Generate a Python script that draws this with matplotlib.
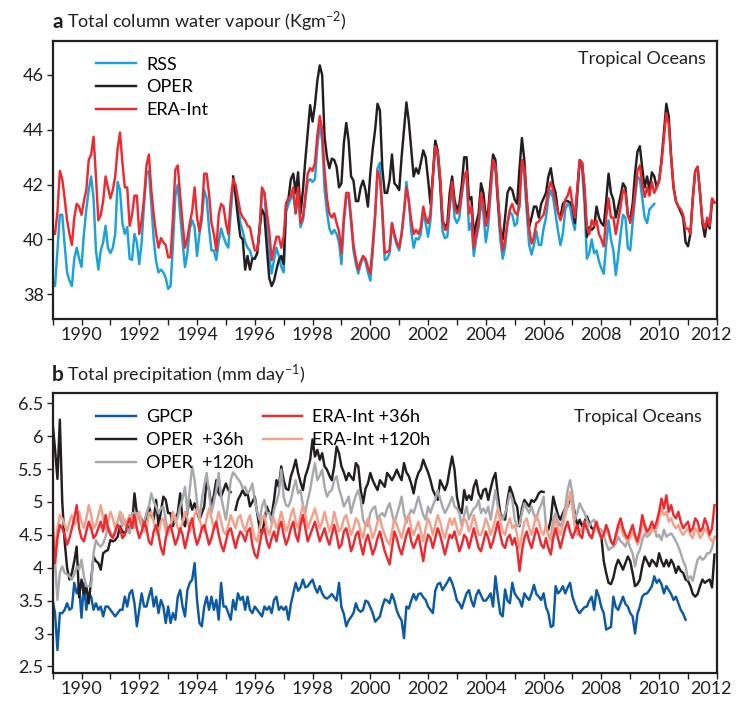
import numpy as np
import matplotlib
matplotlib.use("Agg")
import matplotlib.pyplot as plt
from matplotlib.transforms import ScaledTranslation

plt.rcParams["font.family"] = ["Lato", "DejaVu Sans"]
plt.rcParams["mathtext.fontset"] = "custom"
plt.rcParams["mathtext.rm"] = "Lato"
plt.rcParams["mathtext.it"] = "Lato:italic"
plt.rcParams["mathtext.bf"] = "Lato:bold"

nan = np.nan
START_YEAR = 1989

# ---------------- Panel a: total column water vapour (kg m-2), monthly ----------------
tcwv_rss = [
    38.5, 38.3, 39.6, 40.9, 40.9, 39.8, 38.8, 38.5, 38.3, 39.3, 39.7, 39.3,
    39.0, 40.2, 41.1, 41.8, 42.3, 41.5, 39.6, 38.9, 39.6, 39.9, 40.5, 39.7,
    39.5, 39.7, 40.2, 42.1, 41.8, 40.6, 40.2, 40.45, 39.3, 39.25, 40.2, 39.9,
    39.1, 39.9, 41.3, 42.4, 42.5, 41.3, 40.0, 39.2, 38.8, 38.9, 38.8, 38.6,
    38.2, 38.3, 39.8, 41.6, 42.0, 40.9, 39.9, 39.0, 39.5, 40.4, 40.7, 40.45,
    39.4, 40.2, 40.7, 41.8, 41.5, 40.4, 39.6, 39.6, 39.25, 39.9, 40.4, 40.1,
    39.85, 39.7, 41.0, 42.0, 41.9, 41.2, 40.6, 40.3, 39.9, 39.7, 39.6, 39.3,
    39.3, 39.5, 40.4, 41.8, 41.7, 40.4, 39.4, 38.76, 39.25, 39.7, 39.4, 39.0,
    38.8, 41.0, 41.3, 41.5, 41.6, 40.95, 41.7, 40.45, 40.7, 41.4, 42.1, 42.2,
    42.1, 42.2, 43.4, 44.2, 43.6, 41.8, 41.0, 40.4, 40.2, 40.35, 40.2, 39.9,
    39.1, 40.6, 41.5, 41.6, 40.6, 39.6, 39.1, 38.76, 39.1, 39.35, 39.2, 38.8,
    38.5, 39.5, 40.8, 42.6, 42.8, 40.8, 39.25, 39.3, 39.5, 40.6, 40.1, 39.8,
    39.6, 40.2, 41.0, 42.1, 41.4, 40.3, 39.7, 40.05, 40.0, 40.2, 41.0, 40.6,
    40.1, 40.7, 42.3, 43.6, 43.0, 42.0, 40.3, 40.05, 40.1, 41.2, 41.9, 40.8,
    40.6, 40.8, 41.6, 42.3, 42.3, 40.35, 40.6, 39.4, 40.0, 40.45, 41.4, 40.95,
    39.9, 40.5, 41.7, 42.8, 42.5, 41.3, 40.0, 39.3, 39.7, 40.6, 41.0, 40.9,
    40.5, 40.6, 41.8, 42.9, 42.3, 41.0, 39.8, 39.45, 39.8, 40.3, 39.8, 39.8,
    40.4, 40.8, 41.5, 41.8, 41.5, 40.9, 40.3, 39.8, 40.2, 41.1, 41.3, 41.2,
    40.7, 40.35, 41.6, 42.8, 42.6, 41.3, 39.3, 39.5, 40.0, 39.5, 39.6, 39.2,
    38.95, 38.75, 39.8, 40.7, 40.0, 39.6, 38.7, 39.4, 40.2, 40.9, 40.8, 39.7,
    39.6, 40.6, 41.5, 42.3, 42.2, 41.5, 40.8, 40.6, 41.1, 41.2, 41.3,
]

tcwv_oper = [nan] * 75 + [
    42.3, 41.6, 40.8, 40.1, 40.0, 38.9, 39.4, 38.9, 39.3,
    39.3, 39.5, 40.4, 41.1, 40.9, 39.7, 38.6, 38.3, 38.5, 38.9, 39.25, 39.4,
    39.1, 41.3, 41.5, 42.2, 42.4, 41.7, 42.45, 40.95, 41.8, 42.9, 43.9, 44.9,
    44.3, 44.9, 45.8, 46.35, 46.0, 43.75, 43.0, 42.6, 42.95, 42.9, 42.65, 41.9,
    42.05, 43.5, 44.25, 43.6, 42.3, 42.15, 41.4, 41.4, 41.9, 42.15, 41.8, 41.2,
    42.4, 43.3, 44.0, 44.95, 44.7, 42.6, 41.7, 41.7, 42.15, 43.1, 42.05, 41.95,
    41.8, 43.0, 44.0, 45.0, 44.3, 43.3, 42.3, 42.6, 42.4, 42.8, 43.25, 43.0,
    42.2, 41.3, 42.3, 43.6, 43.25, 42.2, 40.7, 40.45, 40.6, 41.7, 42.3, 41.45,
    41.07, 41.3, 42.0, 43.0, 43.0, 41.45, 41.55, 40.1, 40.6, 40.95, 42.05, 41.7,
    40.8, 41.07, 42.15, 43.1, 42.9, 41.5, 40.35, 40.0, 40.8, 41.7, 41.9, 41.8,
    41.45, 41.3, 42.6, 43.7, 42.9, 41.45, 40.45, 40.8, 41.2, 41.2, 40.8, 41.3,
    41.5, 41.7, 42.3, 42.6, 42.0, 41.7, 41.0, 40.8, 41.3, 41.4, 41.4, 41.35,
    41.2, 40.6, 41.8, 42.9, 42.8, 41.8, 40.1, 40.45, 40.35, 40.45, 41.2, 40.8,
    40.6, 40.5, 41.4, 42.4, 41.7, 41.45, 40.8, 41.2, 41.6, 42.05, 41.9, 40.9,
    40.7, 41.3, 42.4, 43.2, 43.4, 42.6, 41.9, 42.3, 41.8, 42.45, 42.3, 41.9,
    42.15, 42.9, 43.9, 44.95, 44.5, 43.0, 41.9, 41.4, 41.2, 41.0, 40.8, 39.9,
    39.75, 40.2, 41.5, 42.5, 42.65, 41.7, 40.6, 40.1, 40.7, 40.4, 41.4, 41.35,
]

tcwv_era = [
    40.3, 40.2, 41.0, 42.5, 42.2, 41.5, 40.7, 40.2, 39.8, 40.8, 41.3, 41.2,
    40.9, 41.4, 41.8, 42.9, 43.1, 43.75, 42.3, 40.7, 40.9, 41.4, 42.3, 41.9,
    41.5, 41.8, 42.3, 43.3, 43.9, 42.8, 41.9, 41.9, 40.5, 40.9, 41.6, 41.6,
    40.2, 40.7, 41.5, 42.7, 43.1, 41.8, 40.9, 40.2, 39.7, 40.05, 39.9, 39.8,
    39.35, 39.35, 40.8, 42.55, 42.7, 41.6, 40.6, 39.7, 40.05, 40.6, 41.05, 41.9,
    40.8, 40.3, 40.95, 42.4, 42.4, 41.65, 40.6, 40.2, 39.6, 40.9, 41.3, 41.2,
    40.6, 40.2, 41.4, 42.2, 42.0, 41.5, 41.0, 40.8, 40.7, 40.5, 40.45, 40.0,
    39.6, 39.6, 40.3, 41.9, 41.7, 41.0, 40.3, 39.25, 39.7, 40.1, 40.1, 39.7,
    40.1, 41.3, 41.5, 41.6, 41.9, 40.95, 41.9, 40.6, 40.8, 41.6, 42.4, 42.6,
    42.5, 42.8, 43.8, 44.5, 44.0, 42.5, 41.5, 40.95, 40.8, 40.95, 40.6, 40.3,
    39.5, 40.8, 41.7, 41.7, 40.8, 39.8, 39.3, 38.9, 39.2, 39.4, 39.3, 39.0,
    38.76, 39.8, 40.9, 42.5, 42.2, 41.1, 39.5, 39.55, 39.6, 40.6, 40.2, 39.9,
    39.7, 40.2, 41.0, 41.9, 41.4, 40.7, 40.2, 40.35, 40.2, 40.45, 41.2, 40.8,
    40.6, 40.95, 42.3, 43.4, 43.2, 42.3, 40.8, 40.35, 40.4, 41.3, 42.1, 41.2,
    40.95, 41.07, 41.7, 42.3, 42.5, 40.95, 41.2, 39.7, 40.2, 40.6, 41.7, 41.3,
    40.5, 40.8, 41.9, 42.9, 42.7, 41.6, 40.4, 39.6, 40.0, 40.6, 41.1, 41.3,
    41.0, 40.9, 41.2, 42.9, 42.6, 41.5, 40.4, 39.85, 40.1, 40.6, 40.65, 40.8,
    40.9, 41.3, 41.8, 42.1, 41.8, 41.35, 41.0, 40.7, 41.0, 41.45, 41.6, 41.9,
    41.3, 40.8, 41.8, 42.9, 42.8, 41.9, 40.45, 40.2, 40.7, 40.5, 40.7, 40.2,
    40.0, 39.75, 40.8, 41.5, 40.8, 40.8, 40.2, 40.7, 41.2, 41.8, 41.7, 40.9,
    40.6, 41.0, 41.7, 42.5, 42.7, 42.0, 41.55, 41.9, 41.6, 42.1, 41.7, 41.9,
    42.15, 42.8, 43.7, 44.6, 44.2, 43.0, 41.9, 41.4, 41.2, 41.1, 40.9, 40.4,
    40.4, 40.2, 41.5, 42.5, 42.65, 41.7, 40.7, 40.4, 40.8, 40.5, 41.5, 41.35,
]

# ---------------- Panel b: total precipitation (mm/day), monthly ----------------
prcp_gpcp = [
    3.51, 3.31, 2.75, 3.31, 3.31, 3.36, 3.46, 3.36, 3.39, 3.77, 3.61, 3.72,
    3.24, 3.77, 3.36, 3.61, 3.56, 3.36, 3.46, 3.36, 3.41, 3.26, 3.41, 3.41,
    3.36, 3.31, 3.26, 3.31, 3.36, 3.36, 3.56, 3.41, 3.61, 3.66, 3.46, 3.11,
    3.36, 3.61, 3.41, 3.41, 3.56, 3.69, 3.41, 3.56, 3.31, 3.51, 3.41, 3.16,
    3.41, 3.16, 3.31, 3.21, 3.56, 3.66, 3.41, 3.26, 3.66, 3.77, 3.82, 4.07,
    3.51, 3.16, 3.11, 3.41, 3.56, 3.36, 3.56, 3.36, 3.51, 3.21, 3.77, 3.41,
    3.41, 3.31, 3.21, 3.51, 3.36, 3.61, 3.51, 3.56, 3.36, 3.56, 3.36, 3.31,
    3.41, 3.36, 3.31, 3.26, 3.41, 3.36, 3.41, 3.31, 3.51, 3.56, 3.36, 3.41,
    3.36, 3.41, 3.21, 3.45, 3.61, 3.77, 3.65, 3.70, 3.82, 3.70, 3.72, 3.77,
    3.82, 3.70, 3.62, 3.72, 3.61, 3.55, 3.53, 3.56, 3.60, 3.55, 3.50, 3.77,
    3.40, 3.30, 3.11, 3.20, 3.25, 3.31, 3.46, 3.36, 3.33, 3.36, 3.50, 3.48,
    3.40, 3.31, 3.18, 3.22, 3.26, 3.41, 3.52, 3.50, 3.46, 3.60, 3.50, 3.35,
    3.26, 3.20, 2.93, 3.41, 3.38, 3.50, 3.60, 3.51, 3.60, 3.61, 3.55, 3.51,
    3.41, 3.36, 3.31, 3.65, 3.75, 3.77, 3.66, 3.72, 3.78, 3.85, 3.77, 3.65,
    3.50, 3.46, 3.38, 3.50, 3.61, 3.66, 3.50, 3.41, 3.58, 3.66, 3.58, 3.50,
    3.50, 3.55, 3.61, 3.41, 3.87, 3.56, 3.30, 3.26, 3.67, 3.50, 3.46, 3.77,
    3.61, 3.55, 3.51, 3.41, 3.61, 3.55, 3.51, 3.61, 3.74, 3.60, 3.56, 3.51,
    3.61, 3.40, 3.31, 3.10, 3.12, 3.72, 3.61, 3.65, 3.72, 3.61, 3.70, 3.77,
    3.56, 3.45, 3.36, 3.31, 3.36, 3.40, 3.41, 3.50, 3.56, 3.36, 3.66, 3.56,
    3.40, 3.31, 3.06, 3.08, 3.10, 3.56, 3.40, 3.36, 3.46, 3.56, 3.45, 3.41,
    3.31, 3.26, 3.00, 3.30, 3.41, 3.56, 3.60, 3.61, 3.66, 3.72, 3.87, 3.77,
    3.82, 3.75, 3.61, 3.72, 3.66, 3.60, 3.51, 3.56, 3.46, 3.36, 3.30, 3.21,
]

prcp_oper36 = [
    6.2, 5.8, 5.35, 6.25, 5.0, 4.4, 4.0, 3.82, 3.92, 4.1, 4.32, 3.55,
    3.82, 3.61, 3.72, 3.46, 3.82, 4.17, 4.1, 4.07, 3.97, 4.22, 4.25, 4.27,
    4.42, 4.4, 4.42, 4.47, 4.63, 4.55, 4.52, 4.58, 4.63, 4.63, 5.13, 4.83,
    4.8, 4.73, 4.63, 4.8, 4.93, 4.8, 4.73, 5.03, 4.63, 4.85, 5.08, 5.03,
    4.83, 4.83, 4.63, 4.75, 4.83, 5.13, 4.73, 4.63, 4.85, 5.03, 4.88, 4.98,
    4.85, 4.73, 4.83, 4.93, 5.33, 5.18, 4.93, 5.1, 5.33, 5.13, 5.08, 5.18,
    5.28, 5.18, 5.15, nan, 4.88, 5.03, 5.1, 5.18, 5.1, 5.13, 4.93, 5.0,
    5.08, 4.83, 4.6, 4.52, 4.7, 4.93, 4.83, 4.8, 5.03, 5.33, 5.23, 5.54,
    5.33, 5.2, 5.18, 5.39, 5.5, 5.64, 5.44, 5.3, 5.18, 5.39, 5.5, 5.64,
    5.95, 5.69, 5.79, 5.64, 5.74, 5.54, 5.49, 5.4, 5.33, 5.54, 5.84, 5.74,
    5.54, 5.45, 5.33, 5.44, 5.38, 5.33, 5.59, 5.54, 5.18, 4.98, 5.2, 5.28,
    5.44, 5.33, 5.25, 5.18, 5.33, 5.28, 5.23, 5.44, 5.39, 5.33, 5.4, 5.49,
    5.4, 5.33, 5.59, 5.45, 5.39, 5.28, 5.13, 5.33, 5.44, 5.5, 5.64, 5.54,
    5.45, 5.33, 5.18, 5.1, 5.03, 5.33, 5.25, 5.18, 5.28, 5.5, 5.69, 5.49,
    5.08, 4.9, 4.83, 5.18, 5.03, 5.1, 5.03, 5.23, 5.33, 5.13, 5.05, 5.18,
    5.2, 5.03, 5.2, 5.35, 5.44, 5.1, 4.83, 4.75, 4.73, 5.03, 5.23, 5.13,
    5.0, 4.93, 4.63, 4.9, 5.03, 4.98, 4.93, 5.03, 5.0, 5.05, 5.13, 5.16,
    5.15, nan, 4.58, 4.73, 5.08, 4.93, 4.8, 4.73, 4.83, 4.9, 4.93, 5.05,
    5.0, 4.83, 4.63, 4.73, 4.63, 4.7, 4.78, 4.68, 4.6, 4.58, 4.63, 4.55,
    4.47, 4.1, 3.92, 3.77, 3.75, 3.85, 4.02, 4.12, 4.05, 3.97, 4.07, 4.17,
    4.1, 3.92, 3.72, 3.75, 3.82, 4.02, 4.17, 4.1, 4.02, 4.12, 4.08, 4.02,
    4.22, 4.1, 4.02, 4.12, 4.02, 4.12, 4.05, 3.92, 4.02, 3.95, 3.92, 3.82,
    3.8, 3.72, 3.6, 3.56, 3.6, 3.72, 3.82, 3.77, 3.8, 3.82, 3.7, 4.2,
]

prcp_oper120 = [
    4.47, 4.1, 3.51, 3.92, 4.02, 3.92, 3.9, 3.87, 3.82, 3.9, 4.02, 3.97,
    4.12, 3.87, 3.72, 3.72, 3.72, 4.22, 4.42, 4.35, 4.32, 4.37, 4.47, 4.63,
    4.55, 4.47, 4.52, 4.7, 4.78, 4.63, 4.73, 4.6, 4.52, 4.83, 4.83, 4.83,
    4.73, 4.63, 4.7, 4.83, 4.93, 5.13, 5.0, 4.93, 4.83, 4.9, 4.93, 4.73,
    4.52, 4.6, 4.83, 4.68, 4.78, 4.93, 5.05, 5.23, 4.83, 5.2, 5.54, 5.33,
    5.0, 4.73, 5.03, 5.25, 5.44, 5.13, 4.83, 5.0, 5.18, 5.44, 5.08, 4.9,
    4.73, 5.0, 5.33, 5.45, 5.4, 5.35, 5.3, 5.2, 5.23, 5.13, 5.18, 5.28,
    5.03, 4.85, 4.73, 4.93, 5.03, 4.83, 4.83, 4.68, 4.88, 5.0, 5.13, 5.49,
    5.08, 4.95, 4.93, 5.03, 5.2, 5.33, 5.13, 5.18, 4.95, 4.83, 5.03, 5.18,
    5.4, 5.59, 5.33, 5.4, 5.49, 5.23, 5.08, 5.15, 5.18, 5.33, 5.39, 5.2,
    5.08, 4.93, 5.0, 5.08, 4.83, 4.98, 5.1, 5.18, 5.03, 4.73, 4.65, 4.63,
    4.83, 4.9, 4.93, 4.73, 4.8, 4.83, 4.78, 4.9, 4.98, 4.83, 4.68, 4.8,
    4.93, 5.08, 4.83, 4.68, 4.8, 4.88, 4.83, 4.95, 5.08, 4.93, 4.8, 4.73,
    4.93, 4.83, 4.95, 5.03, 5.18, 5.05, 4.93, 4.83, 4.9, 4.98, 5.08, 4.93,
    4.9, 4.83, 4.63, 4.8, 4.93, 4.73, 4.83, 4.9, 4.93, 5.03, 4.83, 4.9,
    4.83, 4.93, 4.73, 4.95, 5.18, 4.93, 4.8, 4.73, 4.83, 4.95, 5.13, 5.03,
    4.73, 4.63, 4.65, 4.83, 4.98, 4.9, 4.83, 4.93, 4.8, 4.73, 4.88, 4.95,
    5.08, 4.63, 4.5, 4.47, 4.73, 4.83, 4.7, 4.63, 4.73, 4.93, 5.18, 5.33,
    5.13, 4.73, 4.83, 4.98, 4.9, 4.83, 4.73, 4.63, 4.7, 4.73, 4.63, 4.6,
    4.58, 4.5, 4.37, 4.27, 4.3, 4.32, 4.37, 4.47, 4.4, 4.37, 4.32, 4.42,
    4.3, 4.22, 4.02, 4.2, 4.27, 4.42, 4.52, 4.47, 4.5, 4.58, 4.63, 4.47,
    4.5, 4.42, 4.58, 4.47, 4.5, 4.52, 4.47, 4.4, 4.32, 4.22, 4.1, 4.02,
    3.82, 3.87, 3.8, 3.97, 4.12, 4.17, 4.12, 4.15, 4.22, 4.22, 4.3, 4.47,
]

prcp_era36 = [
    4.55, 4.07, 4.45, 4.65, 4.6, 4.5, 4.35, 4.45, 4.6, 4.75, 4.95, 4.6,
    4.45, 4.4, 4.55, 4.7, 4.6, 4.45, 4.5, 4.6, 4.7, 4.55, 4.8, 4.6,
    4.5, 4.45, 4.55, 4.65, 4.6, 4.45, 4.5, 4.65, 4.75, 4.6, 4.8, 4.6,
    4.45, 4.55, 4.7, 4.6, 4.4, 4.35, 4.55, 4.65, 4.5, 4.3, 4.2, 4.45,
    4.6, 4.65, 4.5, 4.35, 4.45, 4.6, 4.5, 4.3, 4.45, 4.65, 4.75, 4.5,
    4.35, 4.45, 4.6, 4.65, 4.5, 4.35, 4.45, 4.6, 4.7, 4.5, 4.35, 4.25,
    4.4, 4.55, 4.6, 4.45, 4.3, 4.45, 4.55, 4.5, 4.4, 4.55, 4.6, 4.35,
    4.2, 4.15, 4.35, 4.55, 4.6, 4.4, 4.3, 4.45, 4.55, 4.4, 4.6, 4.7,
    4.5, 4.35, 4.45, 4.6, 4.7, 4.5, 4.4, 4.65, 4.8, 4.6, 4.4, 4.5,
    4.6, 4.7, 4.55, 4.4, 4.5, 4.6, 4.45, 4.35, 4.5, 4.65, 4.5, 4.3,
    4.35, 4.55, 4.6, 4.45, 4.25, 4.35, 4.5, 4.55, 4.35, 4.2, 4.4, 4.5,
    4.35, 4.2, 4.3, 4.45, 4.55, 4.4, 4.25, 4.15, 4.05, 4.3, 4.55, 4.45,
    4.3, 4.2, 4.35, 4.5, 4.6, 4.4, 4.3, 4.4, 4.5, 4.3, 4.1, 4.35,
    4.5, 4.45, 4.3, 4.45, 4.6, 4.5, 4.35, 4.2, 4.35, 4.5, 4.45, 4.55,
    4.4, 4.25, 4.35, 4.5, 4.45, 4.3, 4.45, 4.6, 4.45, 4.3, 4.25, 4.4,
    4.55, 4.45, 4.3, 4.4, 4.55, 4.7, 4.5, 4.35, 4.3, 4.45, 4.5, 4.35,
    4.45, 4.3, 3.95, 4.25, 4.45, 4.55, 4.4, 4.3, 4.45, 4.6, 4.5, 4.35,
    4.3, 4.45, 4.3, 4.2, 4.45, 4.6, 4.45, 4.3, 4.45, 4.6, 4.7, 4.55,
    4.45, 4.55, 4.65, 4.5, 4.45, 4.7, 4.6, 4.5, 4.45, 4.6, 4.7, 4.55,
    4.45, 4.5, 4.65, 4.55, 4.4, 4.35, 4.5, 4.65, 4.75, 4.6, 4.5, 4.45,
    4.55, 4.65, 4.5, 4.4, 4.55, 4.8, 4.65, 4.55, 4.6, 4.7, 4.6, 4.7,
    4.85, 5.05, 4.9, 5.1, 4.85, 4.95, 4.8, 4.75, 4.85, 4.7, 4.6, 4.65,
    4.7, 4.55, 4.6, 4.75, 4.7, 4.55, 4.6, 4.75, 4.65, 4.5, 4.6, 4.95,
]

prcp_era120 = [
    4.8, 4.22, 4.6, 4.8, 4.75, 4.65, 4.55, 4.7, 4.8, 4.65, 4.7, 4.85,
    4.7, 4.6, 4.75, 4.95, 4.8, 4.6, 4.65, 4.8, 4.95, 4.75, 4.6, 4.7,
    4.85, 4.75, 4.6, 4.7, 4.85, 4.8, 4.65, 4.7, 4.8, 4.7, 4.6, 4.75,
    4.85, 4.7, 4.55, 4.6, 4.8, 4.85, 4.7, 4.55, 4.5, 4.7, 4.75, 4.55,
    4.5, 4.65, 4.85, 4.75, 4.6, 4.55, 4.7, 4.85, 4.75, 4.55, 4.65, 4.8,
    4.9, 4.75, 4.6, 4.55, 4.75, 4.9, 4.75, 4.6, 4.7, 4.85, 4.7, 4.55,
    4.5, 4.65, 4.8, 4.7, 4.6, 4.75, 4.8, 4.65, 4.55, 4.7, 4.8, 4.6,
    4.45, 4.4, 4.6, 4.75, 4.8, 4.6, 4.5, 4.65, 4.75, 4.6, 4.7, 4.85,
    4.7, 4.55, 4.65, 4.8, 4.9, 4.7, 4.6, 4.8, 4.95, 4.8, 4.6, 4.7,
    4.8, 4.9, 4.75, 4.6, 4.7, 4.85, 4.7, 4.55, 4.65, 4.85, 4.7, 4.55,
    4.6, 4.75, 4.8, 4.65, 4.5, 4.6, 4.75, 4.7, 4.55, 4.45, 4.65, 4.75,
    4.6, 4.45, 4.55, 4.7, 4.75, 4.6, 4.5, 4.4, 4.35, 4.55, 4.75, 4.65,
    4.55, 4.45, 4.6, 4.75, 4.8, 4.6, 4.5, 4.6, 4.7, 4.55, 4.4, 4.6,
    4.75, 4.65, 4.5, 4.65, 4.8, 4.7, 4.55, 4.45, 4.6, 4.75, 4.65, 4.75,
    4.6, 4.5, 4.6, 4.75, 4.7, 4.55, 4.65, 4.8, 4.65, 4.5, 4.5, 4.6,
    4.75, 4.65, 4.5, 4.6, 4.75, 4.9, 4.7, 4.55, 4.5, 4.65, 4.75, 4.6,
    4.65, 4.5, 4.3, 4.5, 4.7, 4.75, 4.6, 4.5, 4.65, 4.8, 4.7, 4.55,
    4.5, 4.65, 4.5, 4.4, 4.6, 4.75, 4.6, 4.5, 4.65, 4.8, 4.95, 5.15,
    4.9, 4.6, 4.5, 4.6, 4.55, 4.7, 4.6, 4.5, 4.45, 4.55, 4.65, 4.55,
    4.45, 4.5, 4.6, 4.5, 4.4, 4.35, 4.45, 4.6, 4.65, 4.5, 4.45, 4.4,
    4.45, 4.55, 4.45, 4.35, 4.45, 4.7, 4.6, 4.5, 4.55, 4.6, 4.55, 4.6,
    4.75, 4.9, 4.8, 4.85, 4.7, 4.75, 4.65, 4.6, 4.65, 4.55, 4.5, 4.55,
    4.6, 4.5, 4.45, 4.6, 4.55, 4.45, 4.5, 4.6, 4.55, 4.45, 4.4, 4.45,
]

year_ticks = list(range(1989, 2013))
year_labels = [str(y) if y % 2 == 0 else "" for y in year_ticks]
tcwv_ticks = [38, 40, 42, 44, 46]
prcp_ticks = [2.5, 3, 3.5, 4, 4.5, 5, 5.5, 6, 6.5]

C_DARK = "#231F20"
C_RSS = "#1BA1DC"
C_RED = "#EE2A30"
C_GPCP = "#0A5AA6"
C_GRAY = "#A7A9AC"
C_SALMON = "#F4A08A"


def monthly_time(values):
    return START_YEAR + np.arange(len(values)) / 12.0


fig = plt.figure(figsize=(7.36, 7.02), dpi=100)
ax_a = fig.add_axes([0.0715, 0.5456, 0.9025, 0.3964])
ax_b = fig.add_axes([0.0715, 0.0413, 0.9025, 0.3984])

LW = 1.75


def style_axes(ax, ylim, yticks, ylabels):
    ax.set_xlim(1989, 2012)
    ax.set_ylim(*ylim)
    ax.set_xticks(year_ticks)
    ax.set_xticklabels(year_labels)
    ax.set_yticks(yticks)
    ax.set_yticklabels(ylabels)
    for side in ("top", "right", "bottom", "left"):
        ax.spines[side].set_linewidth(1.6)
        ax.spines[side].set_color(C_DARK)
    ax.tick_params(axis="both", direction="out", length=4.5, width=1.0,
                   colors=C_DARK, labelsize=13, labelcolor=C_DARK, pad=2)
    ax.tick_params(axis="x", pad=1)
    # keep the last year label inside the figure
    last = ax.get_xticklabels()[-1]
    last.set_transform(last.get_transform()
                       + ScaledTranslation(-4 / 72, 0, fig.dpi_scale_trans))


# Panel a
ax_a.plot(monthly_time(tcwv_rss), tcwv_rss, color=C_RSS, lw=LW, label="RSS")
ax_a.plot(monthly_time(tcwv_oper), tcwv_oper, color=C_DARK, lw=LW, label="OPER")
ax_a.plot(monthly_time(tcwv_era), tcwv_era, color=C_RED, lw=LW, label="ERA-Int")
style_axes(ax_a, (37.1, 47.25), tcwv_ticks, [str(v) for v in tcwv_ticks])
ax_a.legend(loc="upper left", bbox_to_anchor=(0.066, 0.943), frameon=False,
            fontsize=13, handlelength=2.2, handletextpad=0.55, labelspacing=0.38,
            borderaxespad=0, borderpad=0)
ax_a.text(0.983, 0.933, "Tropical Oceans", transform=ax_a.transAxes,
          ha="right", va="center", fontsize=13, color=C_DARK)

# Panel b
ax_b.plot(monthly_time(prcp_gpcp), prcp_gpcp, color=C_GPCP, lw=LW, label="GPCP")
ax_b.plot(monthly_time(prcp_oper36), prcp_oper36, color=C_DARK, lw=LW, label="OPER  +36h")
ax_b.plot(monthly_time(prcp_oper120), prcp_oper120, color=C_GRAY, lw=LW, label="OPER  +120h")
ax_b.plot(monthly_time(prcp_era120), prcp_era120, color=C_SALMON, lw=LW, label="ERA-Int +120h")
ax_b.plot(monthly_time(prcp_era36), prcp_era36, color=C_RED, lw=LW, label="ERA-Int +36h")
style_axes(ax_b, (2.4, 6.65), prcp_ticks, [f"{v:g}" for v in prcp_ticks])
handles, labels = ax_b.get_legend_handles_labels()
order = [0, 1, 2, 4, 3]
ax_b.legend([handles[i] for i in order], [labels[i] for i in order],
            loc="upper left", bbox_to_anchor=(0.066, 0.943), frameon=False, ncol=2,
            fontsize=13, handlelength=2.2, handletextpad=0.55, labelspacing=0.38,
            columnspacing=0.5, borderaxespad=0, borderpad=0)
ax_b.text(0.977, 0.915, "Tropical Oceans", transform=ax_b.transAxes,
          ha="right", va="center", fontsize=13, color=C_DARK)

# Panel titles
fig.text(0.0707, 0.969, "a", fontsize=15, fontweight="bold", ha="left", va="center", color=C_DARK)
fig.text(0.0905, 0.969, "Total column water vapour (Kgm$^{-2}$)", fontsize=13,
         ha="left", va="center", color=C_DARK)
fig.text(0.0707, 0.466, "b", fontsize=15, fontweight="bold", ha="left", va="center", color=C_DARK)
fig.text(0.0905, 0.466, "Total precipitation (mm day$^{-1}$)", fontsize=13,
         ha="left", va="center", color=C_DARK)

fig.savefig("out.png", dpi=100)
